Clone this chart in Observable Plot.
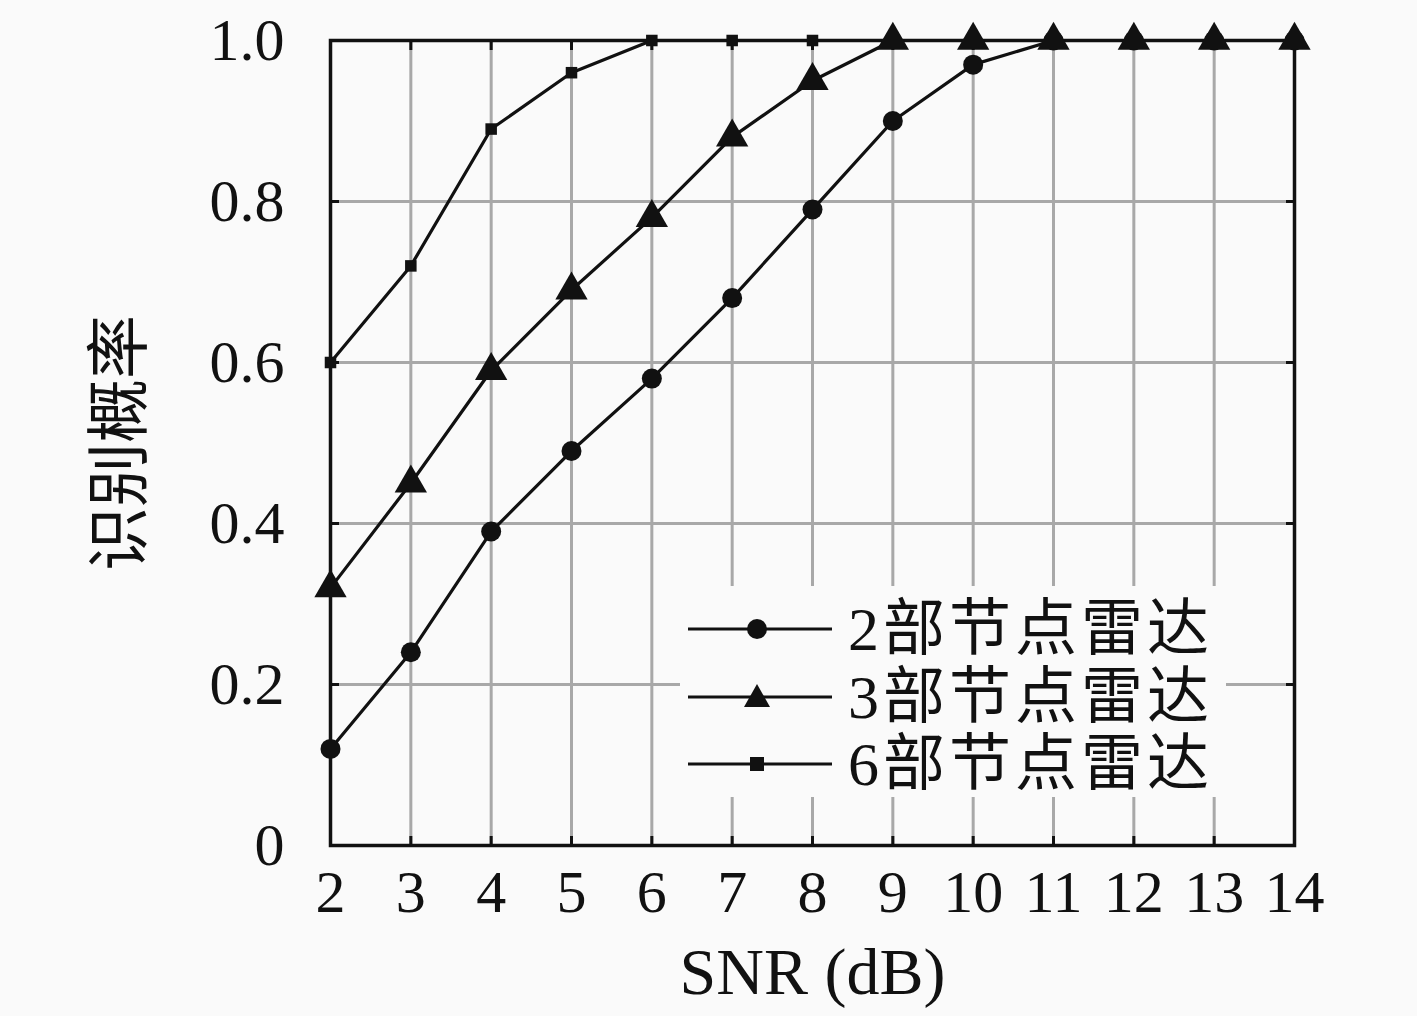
<!DOCTYPE html>
<html>
<head>
<meta charset="utf-8">
<script src="https://cdn.jsdelivr.net/npm/d3@7"></script>
<script src="https://cdn.jsdelivr.net/npm/@observablehq/plot@0.6"></script>
<style>
  html, body { margin: 0; padding: 0; background: #fafafa; }
  #wrap { position: relative; width: 1417px; height: 1016px; }
  #legend { position: absolute; left: 680px; top: 586px; width: 546px; height: 211px; background: #fafafa; }
  .lrow { position: absolute; left: 0; height: 66px; width: 546px; }
  .lrow svg { position: absolute; left: 6px; top: 0; }
  .lrow span { position: absolute; left: 168px; top: 0; line-height: 66px; font-size: 62px; color: #111;
    font-family: "Liberation Serif", "Noto Sans CJK SC", serif; white-space: nowrap; letter-spacing: 4px; }
</style>
</head>
<body>
<div id="wrap"></div>
<script>
const snr = [2, 3, 4, 5, 6, 7, 8, 9, 10, 11, 12, 13, 14];
const p2 = [0.12, 0.24, 0.39, 0.49, 0.58, 0.68, 0.79, 0.90, 0.97, 1, 1, 1, 1];
const p3 = [0.32, 0.45, 0.59, 0.69, 0.78, 0.88, 0.95, 1, 1, 1, 1, 1, 1];
const p6 = [0.60, 0.72, 0.89, 0.96, 1, 1, 1, 1, 1, 1, 1, 1, 1];
const seriesNames = ["2部节点雷达", "3部节点雷达", "6部节点雷达"];
const symbols = ["circle", "triangle", "square"];
const yTicks = [0, 0.2, 0.4, 0.6, 0.8, 1.0];
const xLabel = "SNR (dB)";
const yLabel = "识别概率";

const rows = (vals, name) => snr.map((x, i) => ({x, y: vals[i], s: name}));
const d2 = rows(p2, seriesNames[0]);
const d3 = rows(p3, seriesNames[1]);
const d6 = rows(p6, seriesNames[2]);

const font = '"Liberation Serif", "DejaVu Serif", serif';
const fmt = d => d === 0 ? "0" : d.toFixed(1);
const tickOnly = {tickSize: -9, stroke: "#111", strokeWidth: 3, text: null, label: null};

const chart = Plot.plot({
  width: 1417,
  height: 1016,
  marginLeft: 330,
  marginRight: 123,
  marginTop: 40,
  marginBottom: 171,
  style: {background: "#fafafa", fontFamily: font, color: "#111"},
  x: {domain: [2, 14], ticks: snr, label: null},
  y: {domain: [0, 1], ticks: yTicks, label: null},
  marks: [
    Plot.gridX(snr, {stroke: "#a8a8a8", strokeOpacity: 1, strokeWidth: 3}),
    Plot.gridY(yTicks, {stroke: "#a8a8a8", strokeOpacity: 1, strokeWidth: 3}),
    Plot.axisX(snr, {anchor: "bottom", ...tickOnly}),
    Plot.axisX(snr, {anchor: "top", ...tickOnly}),
    Plot.axisY(yTicks, {anchor: "left", ...tickOnly}),
    Plot.axisY(yTicks, {anchor: "right", ...tickOnly}),
    Plot.axisX(snr, {anchor: "bottom", tickSize: 0, tickPadding: 24, fontSize: 60, fill: "#111", label: null}),
    Plot.axisY(yTicks, {anchor: "left", tickSize: 0, tickPadding: 46, fontSize: 60, fill: "#111", tickFormat: fmt, label: null}),
    Plot.text([xLabel], {frameAnchor: "bottom", dy: 148, fontSize: 66, fill: "#111", lineAnchor: "bottom", text: d => d}),
    Plot.text([yLabel], {frameAnchor: "left", dx: -210, rotate: -90, textAnchor: "middle", fontSize: 64, fill: "#111",
      fontFamily: '"Noto Sans CJK SC", sans-serif', text: d => d}),
    Plot.frame({stroke: "#111", strokeWidth: 3.5}),
    Plot.line(d6, {x: "x", y: "y", stroke: "#111", strokeWidth: 3.2}),
    Plot.line(d2, {x: "x", y: "y", stroke: "#111", strokeWidth: 3.2}),
    Plot.line(d3, {x: "x", y: "y", stroke: "#111", strokeWidth: 3.2}),
    Plot.dot(d6, {x: "x", y: "y", symbol: "square", r: 6.5, fill: "#111", stroke: null}),
    Plot.dot(d2, {x: "x", y: "y", symbol: "circle", r: 10, fill: "#111", stroke: null}),
    Plot.dot(d3, {x: "x", y: "y", symbol: "triangle", r: 12, fill: "#111", stroke: null})
  ]
});

const wrap = document.getElementById("wrap");
wrap.appendChild(chart);

// legend overlay
const legend = document.createElement("div");
legend.id = "legend";
const shapeSvg = {
  circle: '<circle cx="71" cy="33" r="10" fill="#111"/>',
  triangle: '<path d="M71,20 L84,43 L58,43 Z" fill="#111"/>',
  square: '<rect x="64" y="26" width="14" height="14" fill="#111"/>'
};
seriesNames.forEach((name, i) => {
  const row = document.createElement("div");
  row.className = "lrow";
  row.style.top = (i * 67.5 + 10) + "px";
  row.innerHTML = `<svg width="150" height="66"><line x1="2" x2="146" y1="33" y2="33" stroke="#111" stroke-width="3.2"/>${shapeSvg[symbols[i]]}</svg><span>${name}</span>`;
  legend.appendChild(row);
});
wrap.appendChild(legend);
</script>
</body>
</html>
